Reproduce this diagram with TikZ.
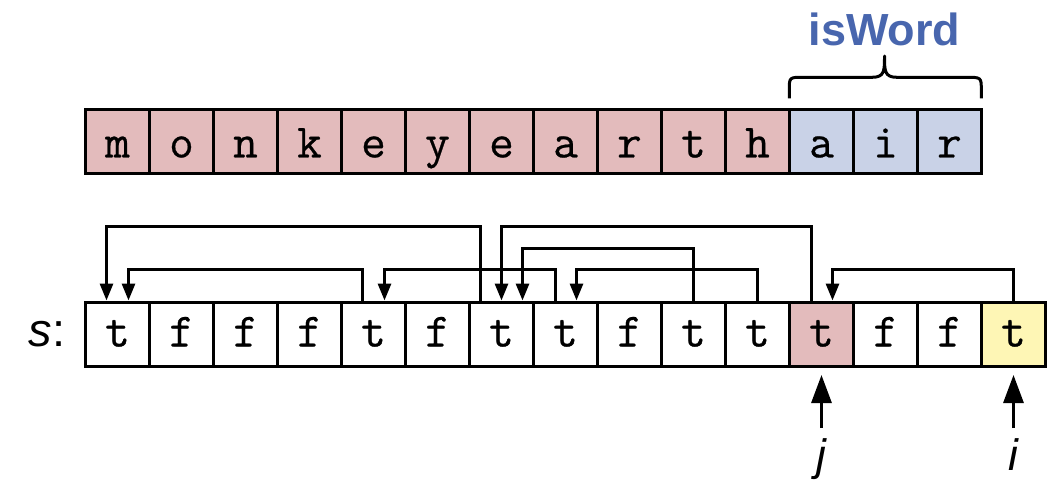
\documentclass[tikz,border=0pt]{standalone}
\usepackage{fontspec}
\setsansfont{Liberation Sans}
\setmonofont{Latin Modern Mono}[FakeBold=0.5]
\usetikzlibrary{arrows.meta}
\definecolor{cpink}{HTML}{E3BBBC}
\definecolor{cblue}{HTML}{C9D2E7}
\definecolor{cyellow}{HTML}{FEF6B5}
\definecolor{cword}{HTML}{4866AE}
\begin{document}
\begin{tikzpicture}[x=1pt,y=-1pt,
  cellbase/.style={draw=black, line width=3pt, minimum width=64pt, minimum height=64pt,
    inner sep=0pt, font=\ttfamily\fontsize{48}{48}\selectfont, text depth=0pt},
  topcell/.style={cellbase, fill=cpink, text height=31.5pt},
  wordcell/.style={cellbase, fill=cblue, text height=31.5pt},
  botcell/.style={cellbase, text height=25pt},
  link/.style={line width=3pt, line join=miter, -{Triangle[length=17pt,width=13pt]}},
  bigarr/.style={line width=3pt, -{Triangle[length=28pt,width=20pt]}},
  ptrlab/.style={font=\sffamily\itshape\fontsize{44}{44}\selectfont, inner sep=10pt, outer sep=0pt, anchor=base},
  bracestyle/.style={line width=3pt, line join=round}
]
\useasboundingbox (0,0) rectangle (1058,480);

% top row
\foreach \c [count=\k from 0] in {m,o,n,k,e,y,e,a,r,t,h}
  \node[topcell] (t\k) at (117.5+64*\k,141.7) {\c};
\foreach \c [count=\k from 11] in {a,i,r}
  \node[wordcell] (t\k) at (117.5+64*\k,141.7) {\c};

% isWord label and brace
\node[anchor=base, font=\sffamily\bfseries\fontsize{45}{45}\selectfont, text=cword, inner sep=0pt] (iw) at (884.5,45) {isWord};
\draw[bracestyle] (789.3,98.3) -- (789.3,90) .. controls (789.3,77.3) .. (803,77.3) -- (872,77.3)
  .. controls (884.5,77.3) and (884.5,71) .. (884.5,56)
  .. controls (884.5,71) and (884.5,77.3) .. (897,77.3) -- (966,77.3)
  .. controls (981.3,77.3) .. (981.3,90) -- (981.3,98.3);

% bottom row
\foreach \c/\f [count=\k from 0] in {t/white,f/white,f/white,f/white,t/white,f/white,t/white,t/white,f/white,t/white,t/white,t/cpink,f/white,f/white,t/cyellow}
  \node[botcell, fill=\f] (b\k) at (117.5+64*\k,334) {\c};

\node[anchor=base east, inner sep=0pt, font=\sffamily\fontsize{47}{47}\selectfont] (sl) at (65.5,346.7) {\textit{s}:};

% links
\draw[link] ([xshift=-21pt]b6.north) -- ++(0,-73.8) -| ([xshift=-11pt]b0.north);
\draw[link] ([xshift=-11pt]b4.north) -- ++(0,-31.2) -| ([xshift=11pt]b0.north);
\draw[link] ([xshift=-10pt]b7.north) -- ++(0,-31.2) -| ([xshift=11pt]b4.north);
\draw[link] ([xshift=-10pt]b11.north) -- ++(0,-73.8) -| (b6.north);
\draw[link] (b9.north) -- ++(0,-52.2) -| ([xshift=21pt]b6.north);
\draw[link] (b10.north) -- ++(0,-31.2) -| ([xshift=11pt]b7.north);
\draw[link] (b14.north) -- ++(0,-31.2) -| ([xshift=11pt]b11.north);

% pointers
\node[ptrlab] (jl) at (821.5,470) {j};
\node[ptrlab] (il) at (1013.5,470) {i};
\draw[bigarr] (jl.north) -- ([yshift=-7.5pt]b11.south);
\draw[bigarr] (il.north) -- ([yshift=-7.5pt]b14.south);
\end{tikzpicture}
\end{document}
